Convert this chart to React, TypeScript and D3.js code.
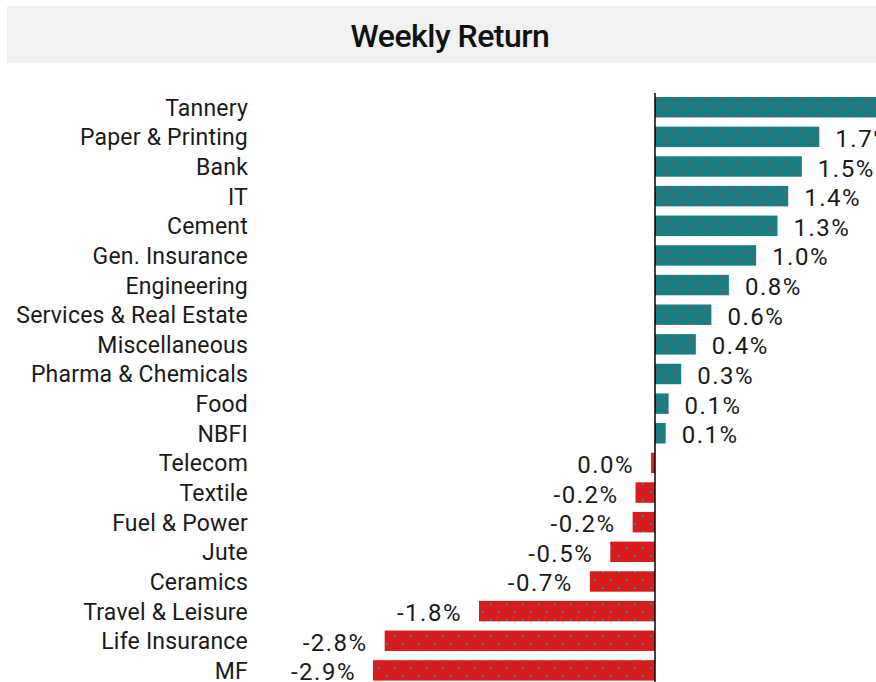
import { useEffect, useRef } from 'react';
import * as d3 from 'd3';

const categories = [
  'Tannery', 'Paper & Printing', 'Bank', 'IT', 'Cement', 'Gen. Insurance', 'Engineering',
  'Services & Real Estate', 'Miscellaneous', 'Pharma & Chemicals', 'Food', 'NBFI', 'Telecom',
  'Textile', 'Fuel & Power', 'Jute', 'Ceramics', 'Travel & Leisure', 'Life Insurance', 'MF',
];
const returns = [
  2.6, 1.69, 1.51, 1.37, 1.26, 1.04, 0.76, 0.58, 0.42, 0.27, 0.14, 0.11, -0.04,
  -0.2, -0.23, -0.46, -0.67, -1.81, -2.78, -2.9,
];
const labels = [
  '2.6%', '1.7%', '1.5%', '1.4%', '1.3%', '1.0%', '0.8%', '0.6%', '0.4%', '0.3%', '0.1%', '0.1%',
  '0.0%', '-0.2%', '-0.2%', '-0.5%', '-0.7%', '-1.8%', '-2.8%', '-2.9%',
];

export default function App() {
  const svgRef = useRef<SVGSVGElement>(null);

  useEffect(() => {
    if (!svgRef.current) return;
    const svg = d3.select(svgRef.current);
    svg.selectAll('*').remove();

    const width = 876;
    const teal = '#177f83';
    const red = '#d81c1e';
    const font = 'Roboto, sans-serif';

    const defs = svg.append('defs');
    // dotted fills
    const pat = (id: string, bg: string, dot: string) => {
      const p = defs.append('pattern')
        .attr('id', id)
        .attr('patternUnits', 'userSpaceOnUse')
        .attr('width', 16)
        .attr('height', 16)
        .attr('x', 655)
        .attr('y', 0);
      p.append('rect').attr('width', 16).attr('height', 16).attr('fill', bg);
      p.append('rect').attr('x', 3).attr('y', 3).attr('width', 2).attr('height', 2).attr('fill', dot);
      p.append('rect').attr('x', 11).attr('y', 11).attr('width', 2).attr('height', 2).attr('fill', dot);
    };
    pat('dotTeal', teal, '#e8262a');
    pat('dotRed', red, '#1a8a8a');

    // title band
    svg.append('rect').attr('x', 7).attr('y', 6).attr('width', width - 7).attr('height', 57).attr('fill', '#f1f1f1');
    svg.append('text')
      .attr('x', 450)
      .attr('y', 47)
      .attr('text-anchor', 'middle')
      .attr('font-family', font)
      .attr('font-size', 32)
      .attr('font-weight', 500)
      .attr('letter-spacing', '-0.5px')
      .attr('fill', '#111')
      .text('Weekly Return');

    const y = d3.scaleBand<string>()
      .domain(categories)
      .range([92.4, 685.2])
      .paddingInner(0.31)
      .paddingOuter(0.155);
    const x = d3.scaleLinear().domain([-2.9, 0]).range([373, 655]);

    const g = svg.append('g');
    const data = categories.map((c, i) => ({ c, v: returns[i], l: labels[i] }));

    g.selectAll('.bar')
      .data(data)
      .join('rect')
      .attr('class', 'bar')
      .attr('x', d => Math.min(x(d.v), x(0)))
      .attr('y', d => y(d.c)!)
      .attr('width', d => Math.abs(x(d.v) - x(0)))
      .attr('height', y.bandwidth())
      .attr('fill', d => (d.v >= 0 ? 'url(#dotTeal)' : 'url(#dotRed)'));

    g.selectAll('.cat')
      .data(data)
      .join('text')
      .attr('class', 'cat')
      .attr('x', 248)
      .attr('y', d => y(d.c)! + y.bandwidth() / 2 + 1)
      .attr('text-anchor', 'end')
      .attr('dominant-baseline', 'central')
      .attr('font-family', font)
      .attr('font-size', 23)
      .attr('letter-spacing', '0.2px')
      .attr('fill', '#1a1a1a')
      .text(d => d.c);

    g.selectAll('.val')
      .data(data)
      .join('text')
      .attr('class', 'val')
      .attr('x', d => (d.v >= 0 ? x(d.v) + 16 : x(d.v) - 17))
      .attr('y', d => y(d.c)! + y.bandwidth() / 2 + 2)
      .attr('text-anchor', d => (d.v >= 0 ? 'start' : 'end'))
      .attr('dominant-baseline', 'central')
      .attr('font-family', font)
      .attr('font-size', 24)
      .attr('letter-spacing', '1.5px')
      .attr('fill', '#1a1a1a')
      .text(d => d.l);

    // zero axis
    g.append('line')
      .attr('x1', x(0)).attr('x2', x(0))
      .attr('y1', 93).attr('y2', 682)
      .attr('stroke', '#000')
      .attr('stroke-width', 1.5);
  }, []);

  return (
    <svg
      ref={svgRef}
      width={876}
      height={682}
      style={{ position: 'absolute', left: 0, top: 0, background: '#fff' }}
    />
  );
}
